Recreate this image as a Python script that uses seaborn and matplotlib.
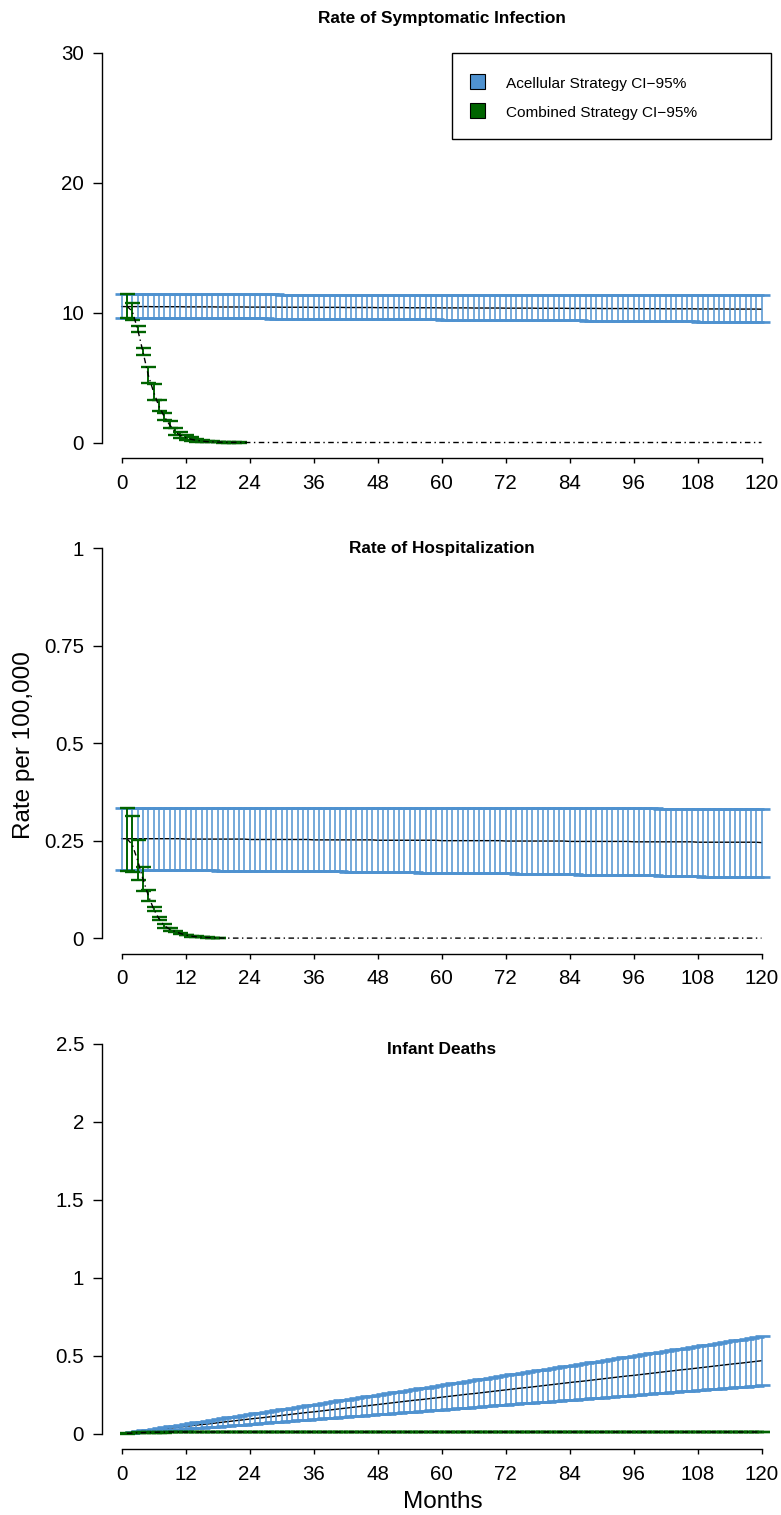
import numpy as np
import matplotlib
matplotlib.use("Agg")
import matplotlib.pyplot as plt
from matplotlib.patches import Rectangle
import seaborn as sns


def _vals(txt):
    return np.array(txt.split(), dtype=float)


# ---------------------------------------------------------------------------
# data: months 0..120 for the acellular strategy, 1..120 for the combined one
# ---------------------------------------------------------------------------
MONTHS_ACEL = np.arange(0, 121)
MONTHS_COMB = np.arange(1, 121)
X_TICKS = [0, 12, 24, 36, 48, 60, 72, 84, 96, 108, 120]

SYM_YTICKS = [0, 10, 20, 30]
SYM_YLABELS = ["0", "10", "20", "30"]
HOSP_YTICKS = [0, 0.25, 0.5, 0.75, 1]
HOSP_YLABELS = ["0", "0.25", "0.5", "0.75", "1"]
DEATH_YTICKS = [0, 0.5, 1, 1.5, 2, 2.5]
DEATH_YLABELS = ["0", "0.5", "1", "1.5", "2", "2.5"]

# --- Rate of symptomatic infection ---------------------------------------
sym_acel_hi = _vals("""
11.40 11.40 11.40 11.40 11.40 11.40 11.40 11.40 11.40 11.40 11.40 11.40
11.40 11.40 11.40 11.40 11.40 11.40 11.40 11.40 11.40 11.40 11.40 11.40
11.40 11.40 11.40 11.40 11.40 11.40 11.39 11.39 11.39 11.39 11.39 11.39
11.39 11.39 11.39 11.39 11.39 11.39 11.39 11.39 11.39 11.39 11.39 11.39
11.39 11.39 11.39 11.39 11.39 11.39 11.39 11.39 11.39 11.39 11.39 11.39
11.38 11.38 11.38 11.38 11.38 11.38 11.38 11.38 11.38 11.38 11.38 11.38
11.38 11.38 11.38 11.38 11.38 11.38 11.38 11.38 11.38 11.38 11.38 11.38
11.38 11.38 11.38 11.38 11.38 11.38 11.37 11.37 11.37 11.37 11.37 11.37
11.37 11.37 11.37 11.37 11.37 11.37 11.37 11.37 11.37 11.37 11.37 11.37
11.37 11.37 11.36 11.36 11.36 11.36 11.36 11.36 11.36 11.36 11.36 11.36
11.36
""")
sym_acel_mean = _vals("""
10.46 10.46 10.46 10.46 10.46 10.46 10.45 10.45 10.45 10.45 10.45 10.45
10.44 10.44 10.44 10.44 10.44 10.44 10.43 10.43 10.43 10.43 10.43 10.43
10.42 10.42 10.42 10.42 10.42 10.42 10.41 10.41 10.41 10.41 10.41 10.41
10.40 10.40 10.40 10.40 10.40 10.40 10.39 10.39 10.39 10.39 10.39 10.39
10.38 10.38 10.38 10.38 10.38 10.38 10.37 10.37 10.37 10.37 10.37 10.37
10.36 10.36 10.36 10.36 10.36 10.36 10.35 10.35 10.35 10.35 10.35 10.35
10.34 10.34 10.34 10.34 10.34 10.34 10.33 10.33 10.33 10.33 10.33 10.33
10.32 10.32 10.32 10.32 10.32 10.32 10.31 10.31 10.31 10.31 10.31 10.31
10.30 10.30 10.30 10.30 10.30 10.30 10.29 10.29 10.29 10.29 10.29 10.29
10.28 10.28 10.28 10.28 10.28 10.28 10.27 10.27 10.27 10.27 10.27 10.27
10.26
""")
sym_acel_lo = _vals("""
9.60 9.60 9.60 9.60 9.60 9.60 9.59 9.59 9.59 9.59 9.59 9.59
9.58 9.58 9.58 9.58 9.57 9.57 9.57 9.57 9.56 9.56 9.56 9.56
9.55 9.55 9.55 9.55 9.54 9.54 9.54 9.54 9.53 9.53 9.53 9.53
9.52 9.52 9.52 9.52 9.51 9.51 9.51 9.51 9.50 9.50 9.50 9.50
9.49 9.49 9.49 9.49 9.48 9.48 9.48 9.48 9.47 9.47 9.47 9.47
9.46 9.46 9.46 9.45 9.45 9.45 9.44 9.44 9.44 9.43 9.43 9.43
9.42 9.42 9.42 9.42 9.41 9.41 9.41 9.41 9.40 9.40 9.40 9.40
9.39 9.39 9.39 9.38 9.38 9.38 9.37 9.37 9.37 9.36 9.36 9.36
9.35 9.35 9.35 9.34 9.34 9.34 9.33 9.33 9.33 9.32 9.32 9.32
9.31 9.31 9.30 9.30 9.29 9.29 9.29 9.28 9.28 9.27 9.27 9.27
9.26
""")
sym_comb_hi = _vals("""
11.40 10.75 9.00 7.28 5.83 4.53 3.24 2.28 1.63 1.10 0.78
0.55 0.40 0.28 0.20 0.13 0.09 0.06 0.04 0.02 0.015 0.01 0
0 0 0 0 0 0 0 0 0 0 0 0
0 0 0 0 0 0 0 0 0 0 0 0
0 0 0 0 0 0 0 0 0 0 0 0
0 0 0 0 0 0 0 0 0 0 0 0
0 0 0 0 0 0 0 0 0 0 0 0
0 0 0 0 0 0 0 0 0 0 0 0
0 0 0 0 0 0 0 0 0 0 0 0
0 0 0 0 0 0 0 0 0 0 0 0
0
""")
sym_comb_mean = _vals("""
10.50 10.10 8.75 7.00 5.20 3.90 2.80 2.00 1.37 0.85 0.55
0.38 0.25 0.17 0.11 0.07 0.05 0.03 0.02 0.01 0.01 0.005 0
0 0 0 0 0 0 0 0 0 0 0 0
0 0 0 0 0 0 0 0 0 0 0 0
0 0 0 0 0 0 0 0 0 0 0 0
0 0 0 0 0 0 0 0 0 0 0 0
0 0 0 0 0 0 0 0 0 0 0 0
0 0 0 0 0 0 0 0 0 0 0 0
0 0 0 0 0 0 0 0 0 0 0 0
0 0 0 0 0 0 0 0 0 0 0 0
0
""")
sym_comb_lo = _vals("""
9.60 9.40 8.50 6.76 4.60 3.24 2.40 1.76 1.11 0.60 0.33
0.20 0.12 0.07 0.04 0.02 0.01 0.01 0 0 0 0 0
0 0 0 0 0 0 0 0 0 0 0 0
0 0 0 0 0 0 0 0 0 0 0 0
0 0 0 0 0 0 0 0 0 0 0 0
0 0 0 0 0 0 0 0 0 0 0 0
0 0 0 0 0 0 0 0 0 0 0 0
0 0 0 0 0 0 0 0 0 0 0 0
0 0 0 0 0 0 0 0 0 0 0 0
0 0 0 0 0 0 0 0 0 0 0 0
0
""")

# --- Rate of hospitalization ---------------------------------------------
hosp_acel_hi = _vals("""
0.335 0.335 0.335 0.335 0.335 0.335 0.335 0.335 0.335 0.335 0.335 0.335
0.335 0.335 0.335 0.335 0.335 0.335 0.335 0.335 0.335 0.335 0.335 0.335
0.335 0.335 0.335 0.335 0.335 0.335 0.335 0.335 0.335 0.335 0.335 0.335
0.335 0.335 0.335 0.335 0.335 0.335 0.335 0.335 0.335 0.335 0.335 0.335
0.335 0.335 0.335 0.335 0.335 0.335 0.335 0.335 0.335 0.335 0.335 0.335
0.335 0.334 0.334 0.334 0.334 0.334 0.334 0.334 0.334 0.334 0.334 0.334
0.334 0.334 0.334 0.334 0.334 0.334 0.334 0.334 0.334 0.333 0.333 0.333
0.333 0.333 0.333 0.333 0.333 0.333 0.333 0.333 0.333 0.333 0.333 0.333
0.333 0.333 0.333 0.333 0.333 0.332 0.332 0.332 0.332 0.332 0.332 0.332
0.332 0.332 0.332 0.332 0.332 0.332 0.332 0.332 0.332 0.332 0.332 0.332
0.332
""")
hosp_acel_mean = _vals("""
0.255 0.255 0.255 0.255 0.255 0.255 0.255 0.255 0.255 0.255 0.255 0.255
0.254 0.254 0.254 0.254 0.254 0.254 0.254 0.254 0.254 0.254 0.254 0.254
0.253 0.253 0.253 0.253 0.253 0.253 0.253 0.253 0.253 0.253 0.253 0.253
0.252 0.252 0.252 0.252 0.252 0.252 0.252 0.252 0.252 0.252 0.252 0.252
0.251 0.251 0.251 0.251 0.251 0.251 0.251 0.251 0.251 0.251 0.251 0.251
0.250 0.250 0.250 0.250 0.250 0.250 0.250 0.250 0.250 0.250 0.250 0.250
0.249 0.249 0.249 0.249 0.249 0.249 0.249 0.249 0.249 0.249 0.249 0.249
0.248 0.248 0.248 0.248 0.248 0.248 0.248 0.248 0.248 0.248 0.248 0.248
0.247 0.247 0.247 0.247 0.247 0.247 0.247 0.247 0.247 0.247 0.247 0.247
0.246 0.246 0.246 0.246 0.246 0.246 0.246 0.246 0.246 0.246 0.246 0.246
0.245
""")
hosp_acel_lo = _vals("""
0.175 0.175 0.175 0.175 0.175 0.175 0.175 0.175 0.174 0.174 0.174 0.174
0.174 0.174 0.174 0.174 0.174 0.174 0.173 0.173 0.173 0.173 0.173 0.173
0.173 0.173 0.173 0.172 0.172 0.172 0.172 0.172 0.172 0.171 0.171 0.171
0.171 0.171 0.171 0.171 0.171 0.171 0.170 0.170 0.170 0.170 0.170 0.170
0.170 0.170 0.169 0.169 0.169 0.169 0.169 0.169 0.168 0.168 0.168 0.168
0.168 0.168 0.167 0.167 0.167 0.167 0.167 0.167 0.166 0.166 0.166 0.166
0.166 0.166 0.165 0.165 0.165 0.165 0.165 0.165 0.164 0.164 0.164 0.164
0.164 0.164 0.163 0.163 0.163 0.163 0.163 0.163 0.162 0.162 0.162 0.162
0.162 0.161 0.161 0.161 0.161 0.160 0.160 0.160 0.160 0.159 0.159 0.159
0.159 0.158 0.158 0.158 0.158 0.157 0.157 0.157 0.157 0.156 0.156 0.156
0.156
""")
hosp_comb_hi = _vals("""
0.335 0.313 0.251 0.182 0.124 0.079 0.053 0.036 0.027 0.019 0.013
0.009 0.006 0.0045 0.003 0.002 0.0013 0.0008 0 0 0 0 0
0 0 0 0 0 0 0 0 0 0 0 0
0 0 0 0 0 0 0 0 0 0 0 0
0 0 0 0 0 0 0 0 0 0 0 0
0 0 0 0 0 0 0 0 0 0 0 0
0 0 0 0 0 0 0 0 0 0 0 0
0 0 0 0 0 0 0 0 0 0 0 0
0 0 0 0 0 0 0 0 0 0 0 0
0 0 0 0 0 0 0 0 0 0 0 0
0
""")
hosp_comb_mean = _vals("""
0.255 0.240 0.200 0.152 0.110 0.075 0.050 0.032 0.023 0.017 0.012
0.008 0.005 0.0035 0.0025 0.0015 0.001 0.0005 0 0 0 0 0
0 0 0 0 0 0 0 0 0 0 0 0
0 0 0 0 0 0 0 0 0 0 0 0
0 0 0 0 0 0 0 0 0 0 0 0
0 0 0 0 0 0 0 0 0 0 0 0
0 0 0 0 0 0 0 0 0 0 0 0
0 0 0 0 0 0 0 0 0 0 0 0
0 0 0 0 0 0 0 0 0 0 0 0
0 0 0 0 0 0 0 0 0 0 0 0
0
""")
hosp_comb_lo = _vals("""
0.173 0.169 0.148 0.122 0.096 0.070 0.046 0.027 0.019 0.015 0.010
0.007 0.004 0.0025 0.0018 0.001 0.0006 0.0003 0 0 0 0 0
0 0 0 0 0 0 0 0 0 0 0 0
0 0 0 0 0 0 0 0 0 0 0 0
0 0 0 0 0 0 0 0 0 0 0 0
0 0 0 0 0 0 0 0 0 0 0 0
0 0 0 0 0 0 0 0 0 0 0 0
0 0 0 0 0 0 0 0 0 0 0 0
0 0 0 0 0 0 0 0 0 0 0 0
0 0 0 0 0 0 0 0 0 0 0 0
0
""")

# --- Infant deaths -------------------------------------------------------
death_acel_hi = _vals("""
0.000 0.005 0.010 0.016 0.021 0.026 0.031 0.036 0.042 0.047 0.052 0.057
0.062 0.068 0.073 0.078 0.083 0.088 0.094 0.099 0.104 0.109 0.114 0.120
0.125 0.130 0.135 0.140 0.146 0.151 0.156 0.161 0.166 0.172 0.177 0.182
0.187 0.192 0.198 0.203 0.208 0.213 0.218 0.224 0.229 0.234 0.239 0.244
0.250 0.255 0.260 0.265 0.270 0.276 0.281 0.286 0.291 0.296 0.302 0.307
0.312 0.317 0.322 0.328 0.333 0.338 0.343 0.348 0.354 0.359 0.364 0.369
0.374 0.380 0.385 0.390 0.395 0.400 0.406 0.411 0.416 0.421 0.426 0.432
0.437 0.442 0.447 0.452 0.458 0.463 0.468 0.473 0.478 0.484 0.489 0.494
0.499 0.504 0.510 0.515 0.520 0.525 0.530 0.536 0.541 0.546 0.551 0.556
0.562 0.567 0.572 0.577 0.582 0.588 0.593 0.598 0.603 0.608 0.614 0.619
0.624
""")
death_acel_mean = _vals("""
0.000 0.004 0.008 0.012 0.016 0.020 0.023 0.027 0.031 0.035 0.039 0.043
0.047 0.051 0.055 0.059 0.062 0.066 0.070 0.074 0.078 0.082 0.086 0.090
0.094 0.098 0.101 0.105 0.109 0.113 0.117 0.121 0.125 0.129 0.133 0.137
0.140 0.144 0.148 0.152 0.156 0.160 0.164 0.168 0.172 0.176 0.179 0.183
0.187 0.191 0.195 0.199 0.203 0.207 0.211 0.215 0.218 0.222 0.226 0.230
0.234 0.238 0.242 0.246 0.250 0.254 0.257 0.261 0.265 0.269 0.273 0.277
0.281 0.285 0.289 0.293 0.296 0.300 0.304 0.308 0.312 0.316 0.320 0.324
0.328 0.332 0.335 0.339 0.343 0.347 0.351 0.355 0.359 0.363 0.367 0.371
0.374 0.378 0.382 0.386 0.390 0.394 0.398 0.402 0.406 0.410 0.413 0.417
0.421 0.425 0.429 0.433 0.437 0.441 0.445 0.449 0.452 0.456 0.460 0.464
0.468
""")
death_acel_lo = _vals("""
0.000 0.003 0.005 0.008 0.010 0.013 0.015 0.018 0.021 0.023 0.026 0.028
0.031 0.034 0.036 0.039 0.041 0.044 0.046 0.049 0.052 0.054 0.057 0.059
0.062 0.065 0.067 0.070 0.072 0.075 0.077 0.080 0.083 0.085 0.088 0.090
0.093 0.095 0.098 0.101 0.103 0.106 0.108 0.111 0.114 0.116 0.119 0.121
0.124 0.126 0.129 0.132 0.134 0.137 0.139 0.142 0.144 0.147 0.150 0.152
0.155 0.157 0.160 0.163 0.165 0.168 0.170 0.173 0.175 0.178 0.181 0.183
0.186 0.188 0.191 0.194 0.196 0.199 0.201 0.204 0.206 0.209 0.212 0.214
0.217 0.219 0.222 0.224 0.227 0.230 0.232 0.235 0.237 0.240 0.243 0.245
0.248 0.250 0.253 0.255 0.258 0.261 0.263 0.266 0.268 0.271 0.273 0.276
0.279 0.281 0.284 0.286 0.289 0.292 0.294 0.297 0.299 0.302 0.304 0.307
0.310
""")
death_comb_hi = _vals("""
0.003 0.005 0.008 0.009 0.011 0.012 0.013 0.013 0.014 0.014 0.014
0.014 0.014 0.014 0.014 0.014 0.014 0.014 0.014 0.014 0.014 0.014 0.014
0.014 0.014 0.014 0.014 0.014 0.014 0.014 0.014 0.014 0.014 0.014 0.014
0.014 0.014 0.014 0.014 0.014 0.014 0.014 0.014 0.014 0.014 0.014 0.014
0.014 0.014 0.014 0.014 0.014 0.014 0.014 0.014 0.014 0.014 0.014 0.014
0.014 0.014 0.014 0.014 0.014 0.014 0.014 0.014 0.014 0.014 0.014 0.014
0.014 0.014 0.014 0.014 0.014 0.014 0.014 0.014 0.014 0.014 0.014 0.014
0.014 0.014 0.014 0.014 0.014 0.014 0.014 0.014 0.014 0.014 0.014 0.014
0.014 0.014 0.014 0.014 0.014 0.014 0.014 0.014 0.014 0.014 0.014 0.014
0.014 0.014 0.014 0.014 0.014 0.014 0.014 0.014 0.014 0.014 0.014 0.014
0.014
""")
death_comb_mean = _vals("""
0.002 0.004 0.006 0.007 0.008 0.009 0.010 0.010 0.011 0.011 0.011
0.011 0.011 0.011 0.011 0.011 0.011 0.011 0.011 0.011 0.011 0.011 0.011
0.011 0.011 0.011 0.011 0.011 0.011 0.011 0.011 0.011 0.011 0.011 0.011
0.011 0.011 0.011 0.011 0.011 0.011 0.011 0.011 0.011 0.011 0.011 0.011
0.011 0.011 0.011 0.011 0.011 0.011 0.011 0.011 0.011 0.011 0.011 0.011
0.011 0.011 0.011 0.011 0.011 0.011 0.011 0.011 0.011 0.011 0.011 0.011
0.011 0.011 0.011 0.011 0.011 0.011 0.011 0.011 0.011 0.011 0.011 0.011
0.011 0.011 0.011 0.011 0.011 0.011 0.011 0.011 0.011 0.011 0.011 0.011
0.011 0.011 0.011 0.011 0.011 0.011 0.011 0.011 0.011 0.011 0.011 0.011
0.011 0.011 0.011 0.011 0.011 0.011 0.011 0.011 0.011 0.011 0.011 0.011
0.011
""")
death_comb_lo = _vals("""
0.001 0.003 0.004 0.005 0.006 0.006 0.007 0.007 0.008 0.008 0.008
0.008 0.008 0.008 0.008 0.008 0.008 0.008 0.008 0.008 0.008 0.008 0.008
0.008 0.008 0.008 0.008 0.008 0.008 0.008 0.008 0.008 0.008 0.008 0.008
0.008 0.008 0.008 0.008 0.008 0.008 0.008 0.008 0.008 0.008 0.008 0.008
0.008 0.008 0.008 0.008 0.008 0.008 0.008 0.008 0.008 0.008 0.008 0.008
0.008 0.008 0.008 0.008 0.008 0.008 0.008 0.008 0.008 0.008 0.008 0.008
0.008 0.008 0.008 0.008 0.008 0.008 0.008 0.008 0.008 0.008 0.008 0.008
0.008 0.008 0.008 0.008 0.008 0.008 0.008 0.008 0.008 0.008 0.008 0.008
0.008 0.008 0.008 0.008 0.008 0.008 0.008 0.008 0.008 0.008 0.008 0.008
0.008 0.008 0.008 0.008 0.008 0.008 0.008 0.008 0.008 0.008 0.008 0.008
0.008
""")

for arr in (sym_acel_hi, sym_acel_mean, sym_acel_lo, hosp_acel_hi, hosp_acel_mean,
            hosp_acel_lo, death_acel_hi, death_acel_mean, death_acel_lo):
    assert len(arr) == len(MONTHS_ACEL), len(arr)
for arr in (sym_comb_hi, sym_comb_mean, sym_comb_lo, hosp_comb_hi, hosp_comb_mean,
            hosp_comb_lo, death_comb_hi, death_comb_mean, death_comb_lo):
    assert len(arr) == len(MONTHS_COMB), len(arr)

BLUE = "#4f92d0"
GREEN = "#006400"

# ---------------------------------------------------------------------------
# style
# ---------------------------------------------------------------------------
sns.set_theme(style="ticks")
plt.rcParams.update({
    "font.family": ["Liberation Sans", "DejaVu Sans"],
    "text.color": "black",
    "axes.edgecolor": "black",
    "axes.labelcolor": "black",
    "xtick.color": "black",
    "ytick.color": "black",
    "axes.linewidth": 1.0,
})

W, H = 781, 1515
fig = plt.figure(figsize=(W / 100, H / 100), dpi=100)
fig.patch.set_facecolor("white")


def px_axes(left, top, right, bottom):
    return fig.add_axes([left / W, 1 - bottom / H, (right - left) / W, (bottom - top) / H])


def errbars(ax, x, mean, lo, hi, color, lw, cap_lw, z):
    keep = hi > lo  # R's arrows() skips zero-length bars
    ax.errorbar(x[keep], mean[keep], yerr=[mean[keep] - lo[keep], hi[keep] - mean[keep]],
                fmt="none", ecolor=color, elinewidth=lw, capsize=5.4, capthick=cap_lw,
                zorder=z)


def draw_panel(ax, a_mean, a_lo, a_hi, c_mean, c_lo, c_hi, yticks, ylabels):
    ymax = yticks[-1]
    sns.lineplot(x=MONTHS_ACEL, y=a_mean, ax=ax, color="black", linewidth=1.0,
                 estimator=None, sort=False, zorder=1)
    errbars(ax, MONTHS_ACEL, a_mean, a_lo, a_hi, BLUE, 1.1, 1.9, 2)
    errbars(ax, MONTHS_COMB, c_mean, c_lo, c_hi, GREEN, 1.4, 1.7, 3)
    sns.lineplot(x=MONTHS_COMB, y=c_mean, ax=ax, color="black", linewidth=1.0,
                 linestyle=(0, (4, 2.5, 1, 2.5)), estimator=None, sort=False, zorder=4)

    ax.set_xlim(1 - 0.04 * 119, 120 + 0.04 * 119)
    ax.set_ylim(-0.04 * ymax, 1.04 * ymax)
    ax.set_xticks(X_TICKS, [str(t) for t in X_TICKS])
    ax.set_yticks(yticks, ylabels)
    sns.despine(ax=ax)
    ax.spines["left"].set_bounds(0, ymax)
    ax.spines["bottom"].set_bounds(0, 120)
    ax.tick_params(axis="y", length=6.5, width=1.0, pad=6.0, labelsize=14.8)
    ax.tick_params(axis="x", length=3.6, width=1.0, pad=7.5, labelsize=14.8)
    ax.set_xlabel("")
    ax.set_ylabel("")
    ax.grid(False)
    ax.set_facecolor("white")


panels = [
    (sym_acel_mean, sym_acel_lo, sym_acel_hi, sym_comb_mean, sym_comb_lo, sym_comb_hi,
     SYM_YTICKS, SYM_YLABELS),
    (hosp_acel_mean, hosp_acel_lo, hosp_acel_hi, hosp_comb_mean, hosp_comb_lo, hosp_comb_hi,
     HOSP_YTICKS, HOSP_YLABELS),
    (death_acel_mean, death_acel_lo, death_acel_hi, death_comb_mean, death_comb_lo,
     death_comb_hi, DEATH_YTICKS, DEATH_YLABELS),
]

for k, p in enumerate(panels):
    off = 495.6 * k
    ax = px_axes(101.5, 37.1 + off, 786.9, 458.1 + off)
    draw_panel(ax, *p)

# titles and axis labels
fig.text(441.5 / W, 1 - 18 / H, "Rate of Symptomatic Infection", ha="center", va="center",
         fontsize=12.4, fontweight="bold")
fig.text(441.5 / W, 1 - 548 / H, "Rate of Hospitalization", ha="center", va="center",
         fontsize=12.4, fontweight="bold")
fig.text(441.5 / W, 1 - 1050 / H, "Infant Deaths", ha="center", va="center",
         fontsize=12.4, fontweight="bold")
fig.text(24 / W, 1 - 745 / H, "Rate per 100,000", rotation=90, ha="center", va="center",
         fontsize=17.5)
fig.text(443 / W, 1 - 1502 / H, "Months", ha="center", va="center", fontsize=17.5)

# legend box (drawn like R's legend())
fig.add_artist(Rectangle((451.7 / W, 1 - 139.3 / H), (771 - 451.7) / W, (139.3 - 52.7) / H,
                         transform=fig.transFigure, fill=False, ec="black", lw=1.0))
legend_items = [("Acellular Strategy CI\u221295%", BLUE, 81.8, 88.3),
                ("Combined Strategy CI\u221295%", GREEN, 110.5, 117.0)]
for label, col, yc, yb in legend_items:
    fig.add_artist(Rectangle((470 / W, 1 - (yc + 7.5) / H), 15 / W, 15 / H,
                             transform=fig.transFigure, fc=col, ec="black", lw=0.8))
    fig.text(505.7 / W, 1 - yb / H, label, ha="left", va="baseline", fontsize=11.1)

fig.savefig("out.png", dpi=100, facecolor="white")
